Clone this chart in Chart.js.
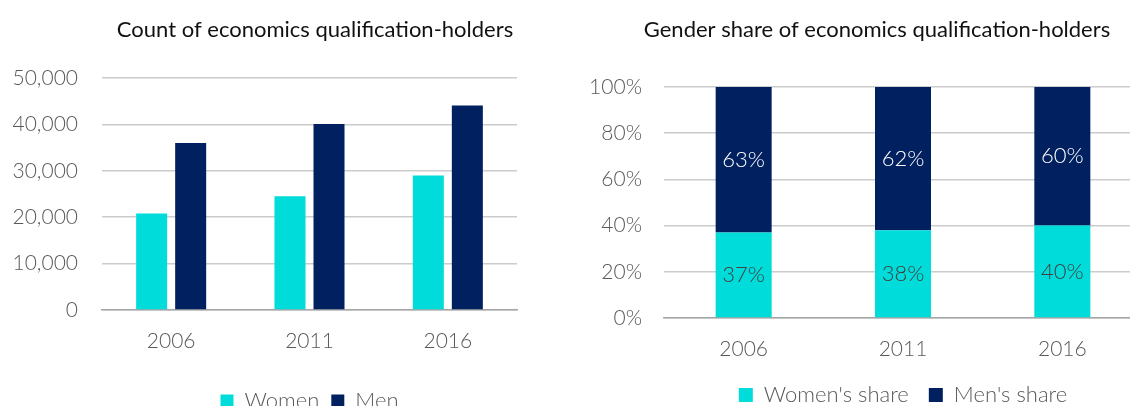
<!DOCTYPE html>
<html>
<head>
<meta charset="utf-8">
<script src="https://cdn.jsdelivr.net/npm/chart.js@4.4.1/dist/chart.umd.min.js"></script>
<style>
    html, body { margin: 0; padding: 0; width: 1130px; height: 406px; overflow: hidden; background: #fff; }
    canvas { position: absolute; top: 0; }
    #countChart { left: 0; }
    #shareChart { left: 580px; }
</style>
</head>
<body>
<canvas id="countChart" width="630" height="422"></canvas>
<canvas id="shareChart" width="594" height="416"></canvas>
<script>
const years = ['2006', '2011', '2016'];
const womenCount = [20800, 24500, 29000];
const menCount = [36000, 40100, 44100];
const womenShare = [37, 38, 40];
const menShare = [63, 62, 60];

const cyan = '#00DCDA';
const navy = '#002060';
const greyText = '#595959';
const fontFamily = 'Lato, "Open Sans", sans-serif';

// draws value labels in the middle of each bar segment
const segmentLabels = {
    id: 'segmentLabels',
    afterDatasetsDraw(chart, args, opts) {
        if (!opts.show) return;
        const ctx = chart.ctx;
        ctx.save();
        ctx.font = `300 22px ${fontFamily}`;
        ctx.textAlign = 'center';
        ctx.textBaseline = 'middle';
        chart.data.datasets.forEach((ds, i) => {
            const meta = chart.getDatasetMeta(i);
            ctx.fillStyle = ds.labelColor;
            meta.data.forEach((bar, j) => {
                const p = bar.getCenterPoint();
                ctx.fillText(ds.data[j] + '%', p.x, p.y);
            });
        });
        ctx.restore();
    }
};

function spacerAxis(width) {
    return {
        type: 'linear',
        position: 'right',
        display: true,
        grid: { display: false },
        border: { display: false },
        ticks: { display: false },
        afterFit(scale) { scale.width = width; }
    };
}

document.addEventListener('DOMContentLoaded', function() {
    Chart.defaults.font.family = fontFamily;
    Chart.defaults.color = greyText;
    const tickFont = { size: 21, weight: 300 };

    new Chart(document.getElementById('countChart'), {
        type: 'bar',
        data: {
            labels: years,
            datasets: [
                { label: 'Women', data: womenCount, backgroundColor: cyan },
                { label: 'Men', data: menCount, backgroundColor: navy }
            ]
        },
        options: {
            responsive: false,
            animation: false,
            layout: { padding: 0 },
            datasets: { bar: { categoryPercentage: 0.564, barPercentage: 0.795 } },
            plugins: {
                title: {
                    display: true,
                    text: 'Count of economics qualification-holders',
                    color: '#111',
                    font: { size: 22, weight: 'normal' },
                    padding: { top: 17, bottom: 34.6 }
                },
                legend: {
                    position: 'bottom',
                    fullSize: false,
                    labels: { boxWidth: 13, boxHeight: 13, padding: 12, font: { size: 22, weight: 300 } }
                },
                tooltip: { enabled: false },
                segmentLabels: { show: false }
            },
            scales: {
                x: {
                    grid: { display: false, drawTicks: false },
                    border: { color: '#A6A6A6', width: 1.5 },
                    ticks: { padding: 18.5, font: tickFont },
                    afterFit(scale) { scale.height = 68; }
                },
                y: {
                    min: 0,
                    max: 50000,
                    ticks: {
                        stepSize: 10000,
                        padding: 24,
                        font: tickFont,
                        callback: v => v.toLocaleString('en-US')
                    },
                    grid: { color: '#CCCCCC', lineWidth: 1.5, drawTicks: false },
                    border: { display: false },
                    afterFit(scale) { scale.width = 102; }
                },
                pad: spacerAxis(113)
            }
        },
        plugins: [segmentLabels]
    });

    new Chart(document.getElementById('shareChart'), {
        type: 'bar',
        data: {
            labels: years,
            datasets: [
                { label: "Women's share", data: womenShare, backgroundColor: cyan, labelColor: '#404040' },
                { label: "Men's share", data: menShare, backgroundColor: navy, labelColor: '#FFFFFF' }
            ]
        },
        options: {
            responsive: false,
            animation: false,
            layout: { padding: 0 },
            datasets: { bar: { categoryPercentage: 1, barPercentage: 0.3515 } },
            plugins: {
                title: {
                    display: true,
                    text: 'Gender share of economics qualification-holders',
                    color: '#111',
                    font: { size: 22, weight: 'normal' },
                    padding: { top: 17, bottom: 43.6 }
                },
                legend: {
                    position: 'bottom',
                    fullSize: false,
                    labels: { boxWidth: 14, boxHeight: 14, padding: 20, font: { size: 22, weight: 300 } }
                },
                tooltip: { enabled: false },
                segmentLabels: { show: true }
            },
            scales: {
                x: {
                    stacked: true,
                    grid: { display: false, drawTicks: false },
                    border: { color: '#A6A6A6', width: 1.5 },
                    ticks: { padding: 18.5, font: tickFont },
                    afterFit(scale) { scale.height = 46; }
                },
                y: {
                    stacked: true,
                    min: 0,
                    max: 100,
                    ticks: {
                        stepSize: 20,
                        padding: 22,
                        font: tickFont,
                        callback: v => v + '%'
                    },
                    grid: { color: '#CCCCCC', lineWidth: 1.5, drawTicks: false },
                    border: { display: false },
                    afterFit(scale) { scale.width = 84; }
                },
                pad: spacerAxis(32)
            }
        },
        plugins: [segmentLabels]
    });
});
</script>
</body>
</html>
